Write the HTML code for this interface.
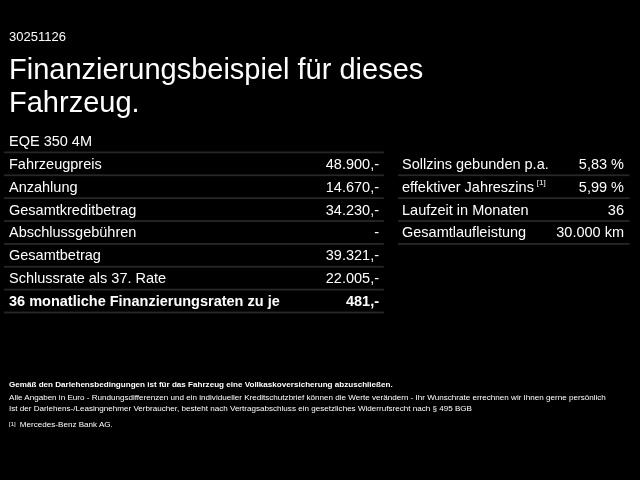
<!DOCTYPE html>
<html lang="de">
<head>
<meta charset="utf-8">
<title>Finanzierungsbeispiel</title>
<style>
html,body{margin:0;padding:0;background:#000;}
body{width:640px;height:480px;overflow:hidden;position:relative;color:#fff;font-family:"Liberation Sans",sans-serif;}
.abs{position:absolute;white-space:nowrap;}
#id{left:9px;top:28px;font-size:13px;line-height:17px;}
#title{left:9px;top:53px;font-size:29px;line-height:33px;}
#model{left:9px;top:131px;font-size:14.5px;line-height:20px;}
.ln{position:absolute;height:1px;background:#3c3c3c;}
.t{position:absolute;white-space:nowrap;font-size:14.5px;line-height:20px;}
.b{font-weight:bold;}
sup{font-size:8px;line-height:8px;vertical-align:baseline;position:relative;top:-7px;margin-left:2.8px;}
.foot{font-size:8.08px;line-height:12px;left:9px;}
</style>
</head>
<body>
<div class="abs" id="id">30251126</div>
<div class="abs" id="title">Finanzierungsbeispiel für dieses<br>Fahrzeug.</div>
<div class="abs" id="model">EQE 350 4M</div>
<svg width="640" height="480" viewBox="0 0 640 480" style="position:absolute;left:0;top:0;" fill="#272727">
<rect x="4" y="151.50" width="379.8" height="1.8"/>
<rect x="4" y="174.37" width="379.8" height="1.8"/>
<rect x="4" y="197.24" width="379.8" height="1.8"/>
<rect x="4" y="220.11" width="379.8" height="1.8"/>
<rect x="4" y="242.98" width="379.8" height="1.8"/>
<rect x="4" y="265.85" width="379.8" height="1.8"/>
<rect x="4" y="288.72" width="379.8" height="1.8"/>
<rect x="4" y="311.59" width="379.8" height="1.8"/>
<rect x="398" y="174.37" width="231.5" height="1.8"/>
<rect x="398" y="197.24" width="231.5" height="1.8"/>
<rect x="398" y="220.11" width="231.5" height="1.8"/>
<rect x="398" y="242.98" width="231.5" height="1.8"/>
</svg>
<div class="t" style="left:9px;top:154px;">Fahrzeugpreis</div><div class="t" style="right:261px;top:154px;">48.900,-</div>
<div class="t" style="left:9px;top:177px;">Anzahlung</div><div class="t" style="right:261px;top:177px;">14.670,-</div>
<div class="t" style="left:9px;top:200px;">Gesamtkreditbetrag</div><div class="t" style="right:261px;top:200px;">34.230,-</div>
<div class="t" style="left:9px;top:222px;">Abschlussgebühren</div><div class="t" style="right:261px;top:222px;">-</div>
<div class="t" style="left:9px;top:245px;">Gesamtbetrag</div><div class="t" style="right:261px;top:245px;">39.321,-</div>
<div class="t" style="left:9px;top:268px;">Schlussrate als 37. Rate</div><div class="t" style="right:261px;top:268px;">22.005,-</div>
<div class="t b" style="left:9px;top:291px;">36 monatliche Finanzierungsraten zu je</div><div class="t b" style="right:261px;top:291px;">481,-</div>
<div class="t" style="left:402px;top:154px;">Sollzins gebunden p.a.</div><div class="t" style="right:16px;top:154px;">5,83 %</div>
<div class="t" style="left:402px;top:177px;">effektiver Jahreszins<sup>[1]</sup></div><div class="t" style="right:16px;top:177px;">5,99 %</div>
<div class="t" style="left:402px;top:200px;">Laufzeit in Monaten</div><div class="t" style="right:16px;top:200px;">36</div>
<div class="t" style="left:402px;top:222px;">Gesamtlaufleistung</div><div class="t" style="right:16px;top:222px;">30.000 km</div>
<div class="abs foot b" style="top:379px;">Gemäß den Darlehensbedingungen ist für das Fahrzeug eine Vollkaskoversicherung abzuschließen.</div>
<div class="abs foot" style="top:392px;">Alle Angaben in Euro - Rundungsdifferenzen und ein individueller Kreditschutzbrief können die Werte verändern - Ihr Wunschrate errechnen wir Ihnen gerne persönlich</div>
<div class="abs foot" style="top:403px;">Ist der Darlehens-/Leasingnehmer Verbraucher, besteht nach Vertragsabschluss ein gesetzliches Widerrufsrecht nach § 495 BGB</div>
<div class="abs foot" style="top:418.5px;"><span style="font-size:6px;position:relative;top:-1px;margin-right:4.2px;">[1]</span>Mercedes-Benz Bank AG.</div>
</body>
</html>
